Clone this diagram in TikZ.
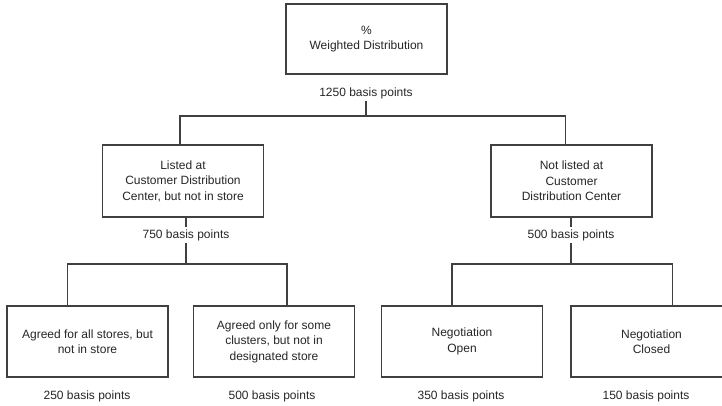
\documentclass[tikz,border=0pt]{standalone}
\usepackage{fontspec}
\setmainfont{Liberation Sans}
\begin{document}
\begin{tikzpicture}[x=1pt,y=-1pt,
  every node/.style={font=\fontsize{12}{15.5}\selectfont, text=black!85},
  box/.style={draw=black!75, line width=1.1pt, fill=white, align=center,
    minimum width=161pt, minimum height=71pt, inner sep=2pt},
  pts/.style={inner sep=2pt},
  conn/.style={draw=black!75, line width=1.1pt}]
\useasboundingbox (0,0) rectangle (722,405);
\begin{scope}
\clip (0,0) rectangle (722,405);
% tree boxes
\node[box, minimum height=70pt] (root) at (366.5,39) {\%\\Weighted Distribution};
\node[box, minimum height=72pt] (lst) at (183,181) {Listed at\\Customer Distribution\\Center, but not in store};
\node[box, minimum height=72pt] (nls) at (571.5,181) {Not listed at\\Customer\\Distribution Center};
\node[box] (agall) at (87.5,341.5) {Agreed for all stores, but\\not in store};
\node[box] (agsome) at (274,341.5) {Agreed only for some\\clusters, but not in\\designated store};
\node[box] (nopen) at (462,341.5) {Negotiation\\Open};
\node[box] (nclosed) at (651.5,341.5) {Negotiation\\Closed};
% basis point labels
\node[pts] (p0) at (366,93) {1250 basis points};
\node[pts] (p1) at (186,235) {750 basis points};
\node[pts] (p2) at (571,235) {500 basis points};
\node[pts] (p3) at (87,396) {250 basis points};
\node[pts] (p4) at (272,396) {500 basis points};
\node[pts] (p5) at (461,396) {350 basis points};
\node[pts] (p6) at (646,396) {150 basis points};
% junction points of the connectors
\coordinate (j0) at (366,116);
\coordinate (j1) at (186,264);
\coordinate (j2) at (571,264);
% connectors
\draw[conn] (p0.south) -- (j0);
\draw[conn] ([xshift=-3pt]lst.north) |- (j0) -| ([xshift=-6pt]nls.north);
\draw[conn] (lst.south -| p1) -- (p1.north);
\draw[conn] (p1.south) -- (j1);
\draw[conn] ([xshift=-20pt]agall.north) |- (j1) -| ([xshift=13pt]agsome.north);
\draw[conn] (nls.south -| p2) -- (p2.north);
\draw[conn] (p2.south) -- (j2);
\draw[conn] ([xshift=-10pt]nopen.north) |- (j2) -| ([xshift=21pt]nclosed.north);
\end{scope}
\end{tikzpicture}
\end{document}
